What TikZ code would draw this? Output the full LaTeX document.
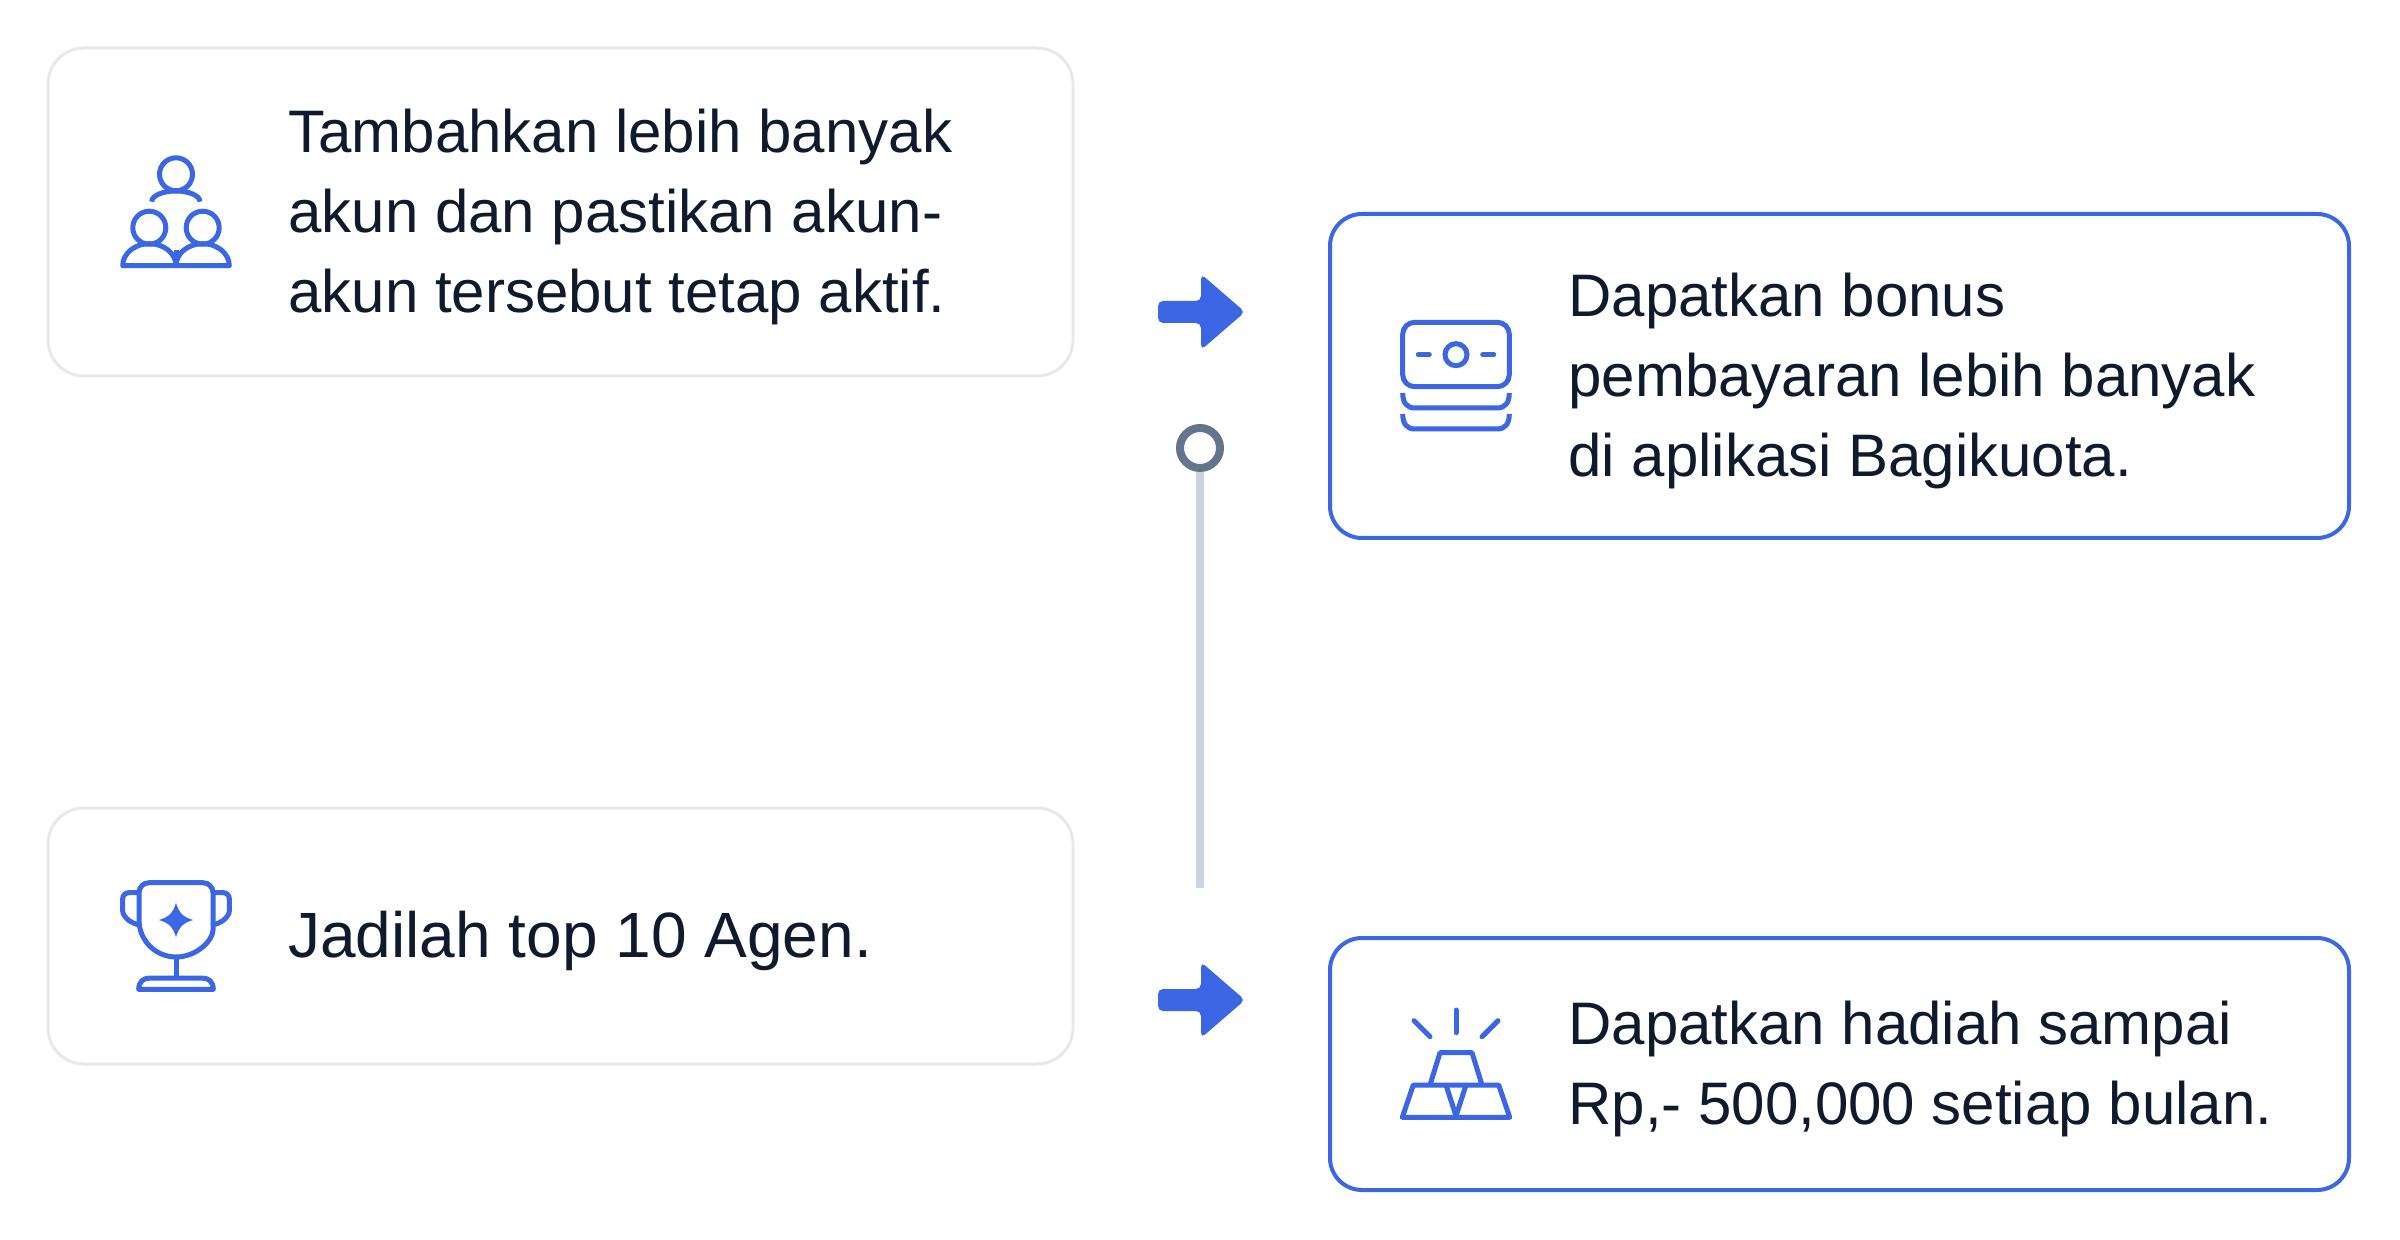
\documentclass[tikz,border=0pt]{standalone}
\usepackage{fontspec}
\setmainfont{Liberation Sans}
\definecolor{iconblue}{HTML}{3B66E4}
\definecolor{inkdark}{HTML}{0F1B2D}
\definecolor{cardgrey}{HTML}{E6E8EC}
\definecolor{ringgrey}{HTML}{64748B}
\definecolor{trackgrey}{HTML}{CBD5E1}
\tikzset{
  plaincard/.style={draw=cardgrey,line width=1.5pt,fill=white,rounded corners=18pt,minimum width=512.5pt,outer sep=0pt},
  bluecard/.style={draw=iconblue,line width=2pt,fill=white,rounded corners=16pt,minimum width=509.5pt,outer sep=0pt},
  cardtext/.style={anchor=west,align=left,inner sep=0pt,text=inkdark,font=\fontsize{30}{40}\selectfont},
  iconline/.style={draw=iconblue,line width=2.5pt},
}
\begin{document}
\begin{tikzpicture}[x=0.5pt,y=-0.5pt]
    \useasboundingbox (0,0) rectangle (2400,1240);

    % cards
    \node[plaincard,minimum height=164pt] (cardusers) at (560.5,212) {};
    \node[plaincard,minimum height=128pt] (cardcup) at (560.5,936) {};
    \node[bluecard,minimum height=162pt] (cardcash) at (1839.5,376) {};
    \node[bluecard,minimum height=126pt] (cardgold) at (1839.5,1064) {};

    \node[cardtext] (textusers) at (288,217) {Tambahkan lebih banyak\\akun dan pastikan akun-\\akun tersebut tetap aktif.};
    \node[cardtext,font=\fontsize{32}{40}\selectfont] (textcup) at (288,941) {Jadilah top 10 Agen.};
    \node[cardtext] (textcash) at (1568,381) {Dapatkan bonus\\pembayaran lebih banyak\\di aplikasi Bagikuota.};
    \node[cardtext] (textgold) at (1568,1069) {Dapatkan hadiah sampai\\Rp,- 500,000 setiap bulan.};

    % middle track
    \node[circle,draw=ringgrey,line width=4pt,fill=white,minimum size=20pt,inner sep=0pt] (ring) at (1200,448) {};
    \coordinate (trackend) at (1200,888);
    \draw[trackgrey,line width=4pt] (ring) -- (trackend);

    % arrows
    \foreach \y in {312,1000} {
        \fill[iconblue,rounded corners=2.5pt] (1158,\y-11) -- (1201,\y-11) -- (1201,\y-38) -- (1245,\y) -- (1201,\y+38) -- (1201,\y+11) -- (1158,\y+11) -- cycle;
    }

    % users icon
    \draw[iconline] (176,174.3) circle (16.5);
    \draw[iconline] (151.7,201.7) arc[start angle=180,end angle=360,x radius=24.15,y radius=10.7];
    \foreach \x in {149.3,202.7} {
        \draw[iconline] (\x,227.7) circle (16.5);
    }
    \draw[iconline,line join=round] (122.7,265.7) arc[start angle=180,end angle=360,x radius=26.65,y radius=22] arc[start angle=180,end angle=360,x radius=26.65,y radius=22] -- cycle;
    \draw[iconline] (176,250) -- (176,265.7);

    % cash icon
    \draw[iconline,rounded corners=6pt] (1402.7,322.3) rectangle (1509.3,386.7);
    \draw[iconline] (1456,354.7) circle (11);
    \draw[iconline,line cap=round] (1418.3,354.7) -- (1429.3,354.7);
    \draw[iconline,line cap=round] (1482.7,354.7) -- (1493.7,354.7);
    \foreach \d in {0,21} {
        \draw[iconline] (1402.7,393+\d) .. controls (1402.7,403+\d) and (1407,408+\d) .. (1415,408+\d) -- (1497,408+\d) .. controls (1505,408+\d) and (1509.3,403+\d) .. (1509.3,393+\d);
    }

    % cup icon
    \draw[iconline,rounded corners=5pt] (139,920) -- (139,882.7) -- (213,882.7) -- (213,920) [sharp corners] arc[start angle=0,end angle=180,radius=37];
    \draw[iconline,rounded corners=3pt] (139,892.7) -- (122.7,892.7) -- (122.7,905) .. controls (122.7,916) and (130,924) .. (141,925);
    \draw[iconline,rounded corners=3pt] (213,892.7) -- (229.3,892.7) -- (229.3,905) .. controls (229.3,916) and (222,924) .. (211,925);
    \fill[iconblue] (176,903) .. controls (179,913) and (183,917) .. (193,920) .. controls (183,923) and (179,927) .. (176,937) .. controls (173,927) and (169,923) .. (159,920) .. controls (169,917) and (173,913) .. (176,903) -- cycle;
    \draw[iconline] (176,957) -- (176,978);
    \draw[iconline,line join=round] (138.7,989.3) .. controls (138.7,982) and (143,978) .. (150,978) -- (202,978) .. controls (209,978) and (213.3,982) .. (213.3,989.3) -- cycle;

    % gold icon
    \draw[iconline,line cap=round] (1456,1010) -- (1456,1032.7);
    \draw[iconline,line cap=round] (1414,1020.7) -- (1430,1036.7);
    \draw[iconline,line cap=round] (1498,1020.7) -- (1482,1036.7);
    \draw[iconline,line join=round] (1430,1085) -- (1440,1052.7) -- (1472,1052.7) -- (1482,1085);
    \draw[iconline,line join=round] (1402.3,1117.3) -- (1413.3,1085) -- (1498.7,1085) -- (1509.7,1117.3) -- cycle;
    \draw[iconline,line join=round] (1446,1085) -- (1456,1116) -- (1466,1085);
\end{tikzpicture}
\end{document}
